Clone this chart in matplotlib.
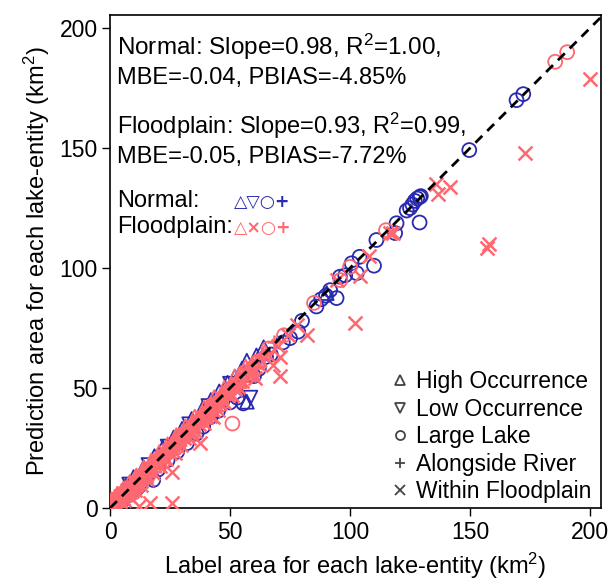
import matplotlib
matplotlib.use("Agg")
import matplotlib.pyplot as plt
from matplotlib.lines import Line2D

plt.rcParams['font.family'] = ['Liberation Sans', 'DejaVu Sans']
plt.rcParams['mathtext.fontset'] = 'custom'
plt.rcParams['mathtext.rm'] = 'Liberation Sans'
plt.rcParams['mathtext.it'] = 'Liberation Sans'

BLUE = '#2A2AB0'
RED = '#FF6870'

# ---------------- data (label area, prediction area) ----------------
# Normal lakes
n_high_x = [3.0, 6.5, 9.8, 14.0, 18.5, 22.0, 26.5, 30.0, 34.0, 38.5, 42.0, 45.5, 49.0, 52.0, 55.0, 57.0, 57.0, 61.0, 64.0, 90.3]
n_high_y = [5.6, 9.3, 12.9, 17.0, 21.6, 25.2, 29.4, 33.0, 37.1, 41.4, 45.0, 48.6, 52.2, 54.8, 58.1, 44.3, 61.4, 63.6, 67.0, 89.6]

n_low_x = [8.0, 16.0, 24.0, 33.0, 41.0, 50.0, 54.0, 58.5]
n_low_y = [9.8, 17.9, 25.6, 34.9, 42.5, 51.8, 50.2, 46.0]

n_lake_x = [3.5, 5.0, 8.0, 11.0, 12.0, 15.0, 18.0, 20.0, 24.0, 28.0, 32.0, 36.0, 38.8, 42.0, 45.0, 47.0, 50.0,
            53.0, 55.5, 60.0, 62.0, 65.0, 67.0, 72.0, 75.0, 78.4, 80.0, 86.0, 88.0, 90.0, 91.7, 94.4, 95.8,
            98.0, 100.7, 102.8, 104.0, 110.0, 111.0, 118.8, 119.4, 123.6, 125.0, 126.0, 127.0, 128.0, 129.0,
            129.5, 129.0, 149.7, 169.4, 172.2]
n_lake_y = [0.5, 3.0, 5.5, 8.0, 9.0, 12.5, 11.7, 16.0, 20.0, 23.5, 27.0, 31.0, 33.9, 38.0, 40.5, 45.0, 44.0,
            46.0, 43.6, 55.0, 58.0, 63.0, 64.0, 69.0, 70.8, 73.5, 78.0, 84.0, 87.0, 88.5, 90.8, 87.5, 96.4,
            97.0, 102.0, 97.9, 104.7, 101.0, 111.7, 114.6, 118.7, 124.0, 125.0, 126.5, 128.0, 129.0, 129.6,
            130.0, 119.0, 149.2, 170.0, 172.5]

n_river_x = [2.0, 7.0, 13.0, 21.0, 29.0, 37.0, 46.0, 53.0]
n_river_y = [2.4, 7.6, 13.2, 21.5, 29.3, 37.2, 46.4, 53.0]

# Floodplain lakes
f_high_x = [0.5, 1.2, 2.0, 2.8, 3.5, 4.3, 5.1, 6.0, 6.8, 7.5, 8.4, 9.2, 10.1, 11.0, 11.8, 12.7, 13.5, 14.4,
            15.3, 16.1, 17.0, 18.2, 19.4, 20.5, 21.7, 22.8, 24.0, 25.3, 26.5, 27.8, 29.0, 30.4, 31.7, 33.0,
            34.5, 35.9, 37.3, 38.8, 40.2, 41.7, 43.3, 44.8, 46.4, 48.0, 49.6, 51.3, 53.0, 54.8, 56.6, 58.5,
            60.4, 62.4, 64.5,
            1.8, 3.2, 4.8, 6.4, 8.0, 9.7, 11.4, 13.1, 14.9, 16.7, 18.6, 20.5, 22.4, 24.4, 26.4, 28.5, 30.6,
            32.8, 35.0, 37.2, 39.5, 41.8, 44.2, 46.6, 49.0, 51.5, 54.0, 56.6, 59.2, 61.8,
            0.8, 3.0, 5.5, 8.2, 11.0, 14.0, 17.2, 20.5, 24.0, 27.6, 31.4, 35.3, 39.3, 43.4, 47.6, 52.0, 56.5]
f_high_y = [0.8, 1.5, 2.6, 3.1, 3.0, 4.9, 5.6, 5.7, 7.3, 7.9, 8.0, 9.9, 10.6, 10.7, 12.3, 13.1, 13.0, 15.0,
            15.8, 15.9, 17.6, 18.0, 19.9, 21.1, 21.5, 23.4, 24.6, 24.9, 26.9, 28.3, 28.7, 30.9, 32.3, 32.6,
            35.0, 36.4, 36.9, 39.3, 40.8, 41.3, 43.8, 45.3, 45.9, 48.5, 50.1, 50.8, 53.6, 55.3, 56.1, 59.0,
            60.9, 61.8, 65.0,
            1.0, 2.4, 4.5, 5.6, 7.1, 9.5, 10.4, 12.5, 14.1, 16.4, 17.6, 20.1, 21.5, 23.8, 25.4, 28.1, 29.8,
            32.3, 34.0, 36.7, 38.6, 41.4, 43.2, 46.1, 47.9, 51.1, 52.9, 56.2, 58.1, 61.4,
            3.6, 5.9, 8.1, 10.9, 13.6, 16.8, 19.9, 23.3, 26.6, 30.4, 34.0, 38.1, 41.9, 46.2, 50.1, 54.8, 59.0]

f_within_x = [1.0, 2.5, 4.0, 5.5, 7.2, 9.0, 11.0, 13.0, 15.0, 17.5, 20.0, 22.5, 25.0, 28.0, 31.0, 34.0, 37.0,
              40.0, 43.0, 46.0, 49.0, 52.0, 55.0, 58.0, 62.0, 66.0, 70.0, 74.0, 78.0,
              200.0, 173.0, 157.0, 158.0, 136.0, 136.5, 141.5, 118.0, 116.5, 108.0, 104.0, 94.5, 102.0,
              82.0, 70.8, 70.8, 68.0, 60.5, 37.5, 25.7, 25.7, 16.7, 12.0, 43.0,
              6.0, 10.5, 15.5, 21.0, 27.0, 33.0, 39.0, 45.0, 51.0,
              3.5, 8.0, 12.8, 18.0, 23.5, 29.5, 35.5, 41.5, 47.5, 53.5, 59.5]
f_within_y = [0.3, 1.6, 3.0, 4.2, 6.0, 7.5, 9.6, 11.2, 13.4, 15.6, 18.0, 20.8, 22.9, 26.0, 29.1, 31.8, 34.9,
              37.8, 41.0, 43.6, 46.9, 49.5, 52.8, 55.6, 59.6, 63.8, 67.5, 72.0, 76.2,
              179.0, 148.0, 108.5, 110.0, 135.0, 131.0, 134.0, 114.5, 114.5, 105.0, 96.5, 95.0, 77.0,
              72.0, 63.0, 55.0, 59.6, 54.0, 27.0, 15.0, 2.0, 2.0, 1.0, 38.0,
              3.5, 7.5, 12.0, 17.5, 23.0, 29.0, 35.5, 41.0, 47.0,
              0.8, 5.0, 9.8, 14.8, 20.4, 26.3, 32.2, 38.4, 44.2, 50.4, 56.3]

f_lake_x = [1.5, 4.5, 8.8, 13.8, 19.0, 24.5, 30.0, 36.5, 42.5, 48.5, 51.0, 56.0, 61.5, 66.0, 72.5, 85.0, 115.0,
            185.5, 190.5, 100.0, 96.0, 4.0, 10.0, 16.0, 22.0, 28.0, 34.0, 40.0, 46.0]
f_lake_y = [2.2, 4.0, 8.5, 13.6, 19.5, 24.0, 30.5, 36.0, 42.8, 48.0, 35.2, 56.5, 61.0, 66.5, 72.0, 85.5, 115.8,
            186.0, 190.0, 100.5, 95.0, 1.0, 6.5, 13.5, 19.0, 25.5, 31.0, 37.5, 43.0]

f_river_x = [0.8, 2.3, 3.9, 5.6, 7.3, 9.5, 12.0, 14.6, 17.3, 20.2, 23.2, 26.4, 29.8, 33.4, 37.2, 41.2, 45.4,
             49.8, 54.4, 59.2, 64.0, 68.5,
             0.3, 1.5, 3.0, 4.5, 6.2, 8.3, 10.6, 13.2, 16.0, 19.0, 22.1, 25.4, 28.9, 32.5, 36.2, 40.1, 44.1,
             48.3, 52.6, 57.0]
f_river_y = [1.8, 3.4, 3.1, 6.9, 7.0, 10.6, 11.8, 15.7, 17.1, 21.4, 22.9, 27.5, 29.5, 34.6, 36.9, 42.2, 45.1,
             50.9, 54.1, 60.1, 63.6, 69.4,
             3.0, 4.8, 6.2, 7.3, 8.8, 10.9, 13.0, 15.5, 18.2, 21.0, 24.0, 27.1, 30.6, 34.1, 37.8, 41.7, 45.6,
             49.7, 54.0, 58.3]

# ---------------- figure ----------------
fig = plt.figure(figsize=(6.08, 5.85), dpi=100)
ax = fig.add_axes([0.181, 0.1316, 0.8075, 0.8424])

ms = 100
lw = 1.3
ax.scatter(n_lake_x, n_lake_y, s=ms, marker='o', facecolors='none', edgecolors=BLUE, linewidths=lw, zorder=2)
ax.scatter(n_high_x, n_high_y, s=ms, marker='^', facecolors='none', edgecolors=BLUE, linewidths=lw, zorder=2)
ax.scatter(n_low_x, n_low_y, s=ms, marker='v', facecolors='none', edgecolors=BLUE, linewidths=lw, zorder=2)
ax.scatter(n_river_x, n_river_y, s=ms, marker='+', color=BLUE, linewidths=lw + 0.5, zorder=2)

ax.scatter(f_high_x, f_high_y, s=ms, marker='^', facecolors='none', edgecolors=RED, linewidths=lw, zorder=3)
ax.scatter(f_river_x, f_river_y, s=ms, marker='+', color=RED, linewidths=lw + 0.5, zorder=3)
ax.scatter(f_lake_x, f_lake_y, s=ms, marker='o', facecolors='none', edgecolors=RED, linewidths=lw, zorder=3)
ax.scatter(f_within_x, f_within_y, s=ms, marker='x', color=RED, linewidths=lw + 0.5, zorder=3)

ax.plot([0, 210], [0, 210], ls=(0, (3.5, 2.5)), color='black', lw=2, zorder=4)

ax.set_xlim(0, 204.6)
ax.set_ylim(0, 205.4)
ax.set_xticks([0, 50, 100, 150, 200])
ax.set_yticks([0, 50, 100, 150, 200])
ax.tick_params(direction='out', length=6, width=1, labelsize=16.5, top=False, right=False, pad=3)
for s in ax.spines.values():
    s.set_linewidth(1.2)

ax.set_xlabel('Label area for each lake-entity (km$^2$)', fontsize=17, labelpad=5)
ax.set_ylabel('Prediction area for each lake-entity (km$^2$)', fontsize=17, labelpad=5)

tfs = 17
ax.text(0.014, 0.919, 'Normal: Slope=0.98, R$^2$=1.00,', transform=ax.transAxes, fontsize=tfs + 0.5, va='baseline')
ax.text(0.014, 0.860, 'MBE=-0.04, PBIAS=-4.85%', transform=ax.transAxes, fontsize=tfs, va='baseline')
ax.text(0.014, 0.759, 'Floodplain: Slope=0.93, R$^2$=0.99,', transform=ax.transAxes, fontsize=tfs, va='baseline')
ax.text(0.014, 0.700, 'MBE=-0.05, PBIAS=-7.72%', transform=ax.transAxes, fontsize=tfs, va='baseline')
ax.text(0.014, 0.611, 'Normal:', transform=ax.transAxes, fontsize=tfs, va='baseline')
ax.text(0.014, 0.558, 'Floodplain:', transform=ax.transAxes, fontsize=tfs, va='baseline')
ax.text(0.252, 0.611, '\u25B3\u25BD\u25CB+', transform=ax.transAxes, fontsize=12.5, va='baseline', color=BLUE,
        family=['DejaVu Sans'], fontweight='bold')
ax.text(0.252, 0.558, '\u25B3\u00D7\u25CB+', transform=ax.transAxes, fontsize=12.5, va='baseline', color=RED,
        family=['DejaVu Sans'], fontweight='bold')

legend_labels = ['High Occurrence', 'Low Occurrence', 'Large Lake', 'Alongside River', 'Within Floodplain']
legend_markers = ['^', 'v', 'o', '+', 'x']
handles = [Line2D([], [], ls='none', marker=m, markersize=6.5, markerfacecolor='none',
                  markeredgecolor='#444444', markeredgewidth=1.3) for m in legend_markers]
ax.legend(handles, legend_labels, loc='lower right', frameon=False, fontsize=16.5,
          handletextpad=0.2, labelspacing=0.2, borderaxespad=0.0, borderpad=0.2,
          handlelength=1.0, bbox_to_anchor=(0.99, 0.0))

fig.savefig('out.png', dpi=100)
